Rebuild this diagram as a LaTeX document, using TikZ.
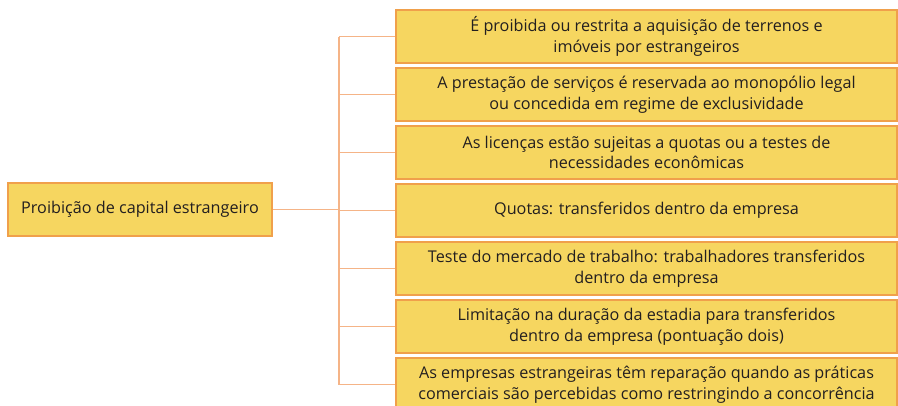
\documentclass[tikz,border=0pt]{standalone}
\usepackage{fontspec}
\setmainfont{Open Sans}
\usetikzlibrary{positioning}
\definecolor{boxfill}{HTML}{F6D660}
\definecolor{boxline}{HTML}{F0A04B}
\definecolor{link}{HTML}{F5B487}
\definecolor{ink}{HTML}{231F20}
\tikzset{
  font=\fontsize{16.2}{20.5}\selectfont,
  box/.style={draw=boxline, fill=boxfill, line width=1.3pt, align=center, inner sep=0pt, text=ink},
  root/.style={box, minimum width=264pt, minimum height=53pt},
  leaf/.style={box, minimum width=501pt, minimum height=53pt},
  branch/.style={draw=link, line width=1.3pt},
}
\begin{document}
\begin{tikzpicture}[x=1pt, y=-1pt]
\useasboundingbox (0,0) rectangle (898,405);
% --- root on the left
\node[root] (prohib) at (140,209.5) {Proibição de capital estrangeiro};
% --- restrictions on the right (absolute coordinates, px)
\node[leaf] (land) at (646.5,36.5) {É proibida ou restrita a aquisição de terrenos e\\imóveis por estrangeiros};
\node[leaf] (monop) at (646.5,94.5) {A prestação de serviços é reservada ao monopólio legal\\ou concedida em regime de exclusividade};
\node[leaf] (quota) at (646.5,152.5) {As licenças estão sujeitas a quotas ou a testes de\\necessidades econômicas};
\node[leaf] (transf) at (646.5,210.5) {Quotas: transferidos dentro da empresa};
\node[leaf] (labour) at (646.5,268.5) {Teste do mercado de trabalho: trabalhadores transferidos\\dentro da empresa};
\node[leaf] (stay) at (646.5,326.5) {Limitação na duração da estadia para transferidos\\dentro da empresa (pontuação dois)};
\node[leaf] (compet) at (646.5,384.5) {As empresas estrangeiras têm reparação quando as práticas\\comerciais são percebidas como restringindo a concorrência};
% --- tree connectors
\coordinate (trunk) at (339,0);
\draw[branch] (prohib.east) -- (prohib.east -| trunk);
\draw[branch] (land.west -| trunk) -- (compet.west -| trunk);
\foreach \n in {land, monop, quota, transf, labour, stay, compet} {\draw[branch] (\n.west -| trunk) -- (\n.west);}
\end{tikzpicture}
\end{document}
